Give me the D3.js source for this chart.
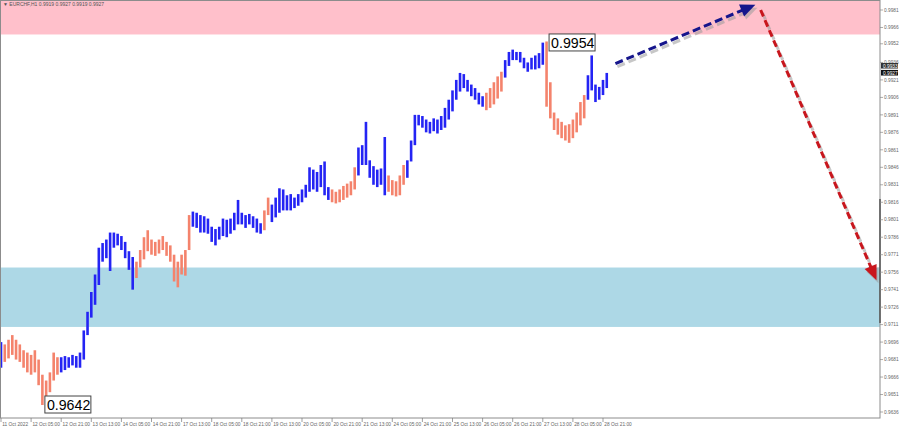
<!DOCTYPE html>
<html><head><meta charset="utf-8">
<script src="https://cdn.jsdelivr.net/npm/d3@7"></script>
<style>
body{margin:0;background:#fff;}
svg{display:block;font-family:"Liberation Sans",Arial,sans-serif;}
</style>
</head><body>
<svg id="c" width="900" height="428"></svg>
<script>
// ---------- DATA ----------
const symbolTitle = "▼ EURCHF,H1  0.9919 0.9927 0.9919 0.9927";
// 2-hour bars (high / low), starting 11 Oct 2022 13:00
const barHigh = [
0.9696,0.9694,0.9698,0.9702,0.9698,0.9694,0.9689,0.9687,0.9685,0.9689,
0.9681,0.9668,0.9663,0.9670,0.9687,0.9683,0.9683,0.9684,0.9683,0.9685,
0.9684,0.9687,0.9706,0.9722,0.9739,0.9754,0.9777,0.9781,0.9784,0.9790,
0.9790,0.9789,0.9787,0.9782,0.9774,0.9769,0.9765,0.9775,0.9786,0.9792,
0.9784,0.9782,0.9784,0.9787,0.9782,0.9779,0.9771,0.9765,0.9771,0.9775,
0.9805,0.9808,0.9807,0.9805,0.9804,0.9802,0.9795,0.9793,0.9795,0.9802,
0.9801,0.9802,0.9807,0.9818,0.9807,0.9805,0.9806,0.9804,0.9802,0.9798,
0.9809,0.9820,0.9814,0.9820,0.9828,0.9827,0.9822,0.9823,0.9820,0.9823,
0.9827,0.9831,0.9846,0.9844,0.9842,0.9848,0.9851,0.9829,0.9827,0.9825,
0.9827,0.9830,0.9832,0.9834,0.9846,0.9863,0.9865,0.9885,0.9852,0.9847,
0.9844,0.9845,0.9872,0.9839,0.9835,0.9834,0.9839,0.9848,0.9852,0.9869,
0.9891,0.9891,0.9890,0.9887,0.9885,0.9888,0.9887,0.9890,0.9897,0.9904,
0.9912,0.9921,0.9927,0.9926,0.9921,0.9917,0.9914,0.9910,0.9907,0.9910,
0.9914,0.9919,0.9924,0.9928,0.9938,0.9945,0.9947,0.9945,0.9945,0.9940,
0.9936,0.9940,0.9942,0.9944,0.9953,0.9954,0.9919,0.9893,0.9888,0.9885,
0.9882,0.9883,0.9887,0.9893,0.9902,0.9908,0.9925,0.9942,0.9917,0.9915,
0.9921,0.9927];
const barLow = [
0.9674,0.9679,0.9682,0.9685,0.9681,0.9679,0.9674,0.9670,0.9668,0.9670,
0.9659,0.9642,0.9648,0.9653,0.9663,0.9668,0.9670,0.9672,0.9674,0.9676,
0.9674,0.9674,0.9681,0.9702,0.9717,0.9728,0.9745,0.9765,0.9768,0.9757,
0.9777,0.9779,0.9775,0.9768,0.9758,0.9741,0.9751,0.9760,0.9767,0.9774,
0.9771,0.9770,0.9772,0.9775,0.9770,0.9765,0.9748,0.9743,0.9754,0.9753,
0.9775,0.9795,0.9794,0.9790,0.9790,0.9789,0.9782,0.9779,0.9784,0.9787,
0.9786,0.9789,0.9792,0.9797,0.9797,0.9794,0.9797,0.9794,0.9790,0.9789,
0.9792,0.9805,0.9799,0.9803,0.9807,0.9809,0.9809,0.9809,0.9811,0.9813,
0.9816,0.9820,0.9825,0.9827,0.9825,0.9829,0.9822,0.9818,0.9816,0.9815,
0.9816,0.9818,0.9820,0.9822,0.9827,0.9839,0.9848,0.9848,0.9837,0.9831,
0.9829,0.9831,0.9822,0.9825,0.9822,0.9821,0.9822,0.9831,0.9837,0.9851,
0.9865,0.9882,0.9880,0.9876,0.9875,0.9877,0.9875,0.9878,0.9880,0.9887,
0.9894,0.9904,0.9911,0.9914,0.9911,0.9907,0.9904,0.9900,0.9898,0.9895,
0.9897,0.9900,0.9905,0.9911,0.9923,0.9933,0.9938,0.9938,0.9936,0.9931,
0.9928,0.9930,0.9930,0.9931,0.9934,0.9898,0.9888,0.9878,0.9874,0.9871,
0.9869,0.9867,0.9871,0.9876,0.9882,0.9888,0.9904,0.9912,0.9902,0.9904,
0.9908,0.9914];
// first bar index of each wave, alternating direction starting with "up"
const waveStarts = [0,1,16,36,51,70,72,88,95,103,108,129,134,145,156];
const waveDirs = ["up","down","up","down","up","down","up","down","up","down","up","down","up","down","up"];
const timeLabels = ["11 Oct 2022","12 Oct 05:00","12 Oct 21:00","13 Oct 13:00","14 Oct 05:00","14 Oct 21:00",
  "17 Oct 13:00","18 Oct 05:00","18 Oct 21:00","19 Oct 13:00","20 Oct 05:00","20 Oct 21:00","21 Oct 13:00",
  "24 Oct 05:00","24 Oct 21:00","25 Oct 13:00","26 Oct 05:00","26 Oct 21:00","27 Oct 13:00","28 Oct 05:00","28 Oct 21:00"];
const priceTicks = [0.9981,0.9966,0.9952,0.9936,0.9921,0.9906,0.9891,0.9876,0.9861,0.9846,0.9831,0.9816,
  0.9801,0.9786,0.9771,0.9756,0.9741,0.9726,0.9711,0.9696,0.9681,0.9666,0.9651,0.9636];
const lastPrices = [0.9933, 0.9927];
const resistanceZone = [1.0000, 0.9960];
const supportZone = [0.9760, 0.9709];
const extremeLabels = [{bar:145, price:0.9954, text:"0.9954", side:"high"},
                       {bar:11, price:0.9642, text:"0.9642", side:"low"}];
const forecastUp = [[163.3, 0.9935],[200.5, 0.99855]];
const forecastDown = [[201.9, 0.9981],[232.7, 0.9749]];

// ---------- CHART ----------
const svg = d3.select("#c");
const plotR = 880, plotB = 418;
const x = d3.scaleLinear().domain([0, 8]).range([1, 31.1]);
const y = d3.scaleLinear().domain([0.9636, 0.9981]).range([412, 10]);

svg.append("defs").append("clipPath").attr("id","clip")
  .append("rect").attr("x",0).attr("y",0).attr("width",plotR).attr("height",plotB);
const plot = svg.append("g").attr("clip-path","url(#clip)");

// zones
plot.append("rect").attr("x",0).attr("width",plotR)
  .attr("y", y(resistanceZone[0])).attr("height", y(resistanceZone[1]) - y(resistanceZone[0]))
  .attr("fill","#ffc0cb");
plot.append("rect").attr("x",0).attr("width",plotR)
  .attr("y", y(supportZone[0])).attr("height", y(supportZone[1]) - y(supportZone[0]))
  .attr("fill","#add8e6");

// bars
function dirOf(i){ let k=0; for(let j=0;j<waveStarts.length;j++){ if(i>=waveStarts[j]) k=j; } return waveDirs[k]; }
const colors = {up:"#2424f4", down:"#f4836c"};
plot.append("g").selectAll("line").data(barHigh.map((h,i)=>({i,h,l:barLow[i]})))
  .join("line")
  .attr("x1",d=>x(d.i)).attr("x2",d=>x(d.i))
  .attr("y1",d=>y(d.h)).attr("y2",d=>y(d.l))
  .attr("stroke",d=>colors[dirOf(d.i)]).attr("stroke-width",2.6);

// forecast arrows
function arrow(pts, color, dash){
  const [p0,p1] = pts;
  const x0=x(p0[0]), y0=y(p0[1]), x1=x(p1[0]), y1=y(p1[1]);
  const ang = Math.atan2(y1-y0, x1-x0);
  const L=15, W=6.5;
  const bx = x1 - L*Math.cos(ang), by = y1 - L*Math.sin(ang);
  const head = [[x1,y1],[bx + W*Math.sin(ang), by - W*Math.cos(ang)],[bx - W*Math.sin(ang), by + W*Math.cos(ang)]];
  const draw = (g, c, op)=>{
    g.append("line").attr("x1",x0).attr("y1",y0).attr("x2",bx+2*Math.cos(ang)).attr("y2",by+2*Math.sin(ang))
      .attr("stroke",c).attr("stroke-width",3).attr("stroke-dasharray",dash).attr("opacity",op);
    g.append("polygon").attr("points",head.map(p=>p.join(",")).join(" ")).attr("fill",c).attr("opacity",op);
  };
  draw(plot.append("g").attr("transform","translate(2,3)"), "#9a9a9a", 0.55);
  draw(plot.append("g"), color, 1);
}
arrow(forecastUp, "#16168c", "8,4");
arrow(forecastDown, "#c8161d", "7,4");

// extreme labels
extremeLabels.forEach(d=>{
  const bx = x(d.bar) + 2.5;
  const top = d.side==="high" ? y(d.price) - 7.5 : y(d.price) - 9;
  const g = svg.append("g");
  g.append("rect").attr("x",bx).attr("y",top).attr("width",46).attr("height",17)
    .attr("fill","#fff").attr("stroke","#444").attr("stroke-width",1);
  g.append("text").attr("x",bx+2).attr("y",top+14).attr("font-size",14.2).attr("fill","#000").text(d.text);
});

// frame
svg.append("rect").attr("x",0.5).attr("y",0.5).attr("width",plotR-0.5).attr("height",plotB-0.5)
  .attr("fill","none").attr("stroke","#8c8c8c").attr("stroke-width",1);
svg.append("line").attr("x1",plotR).attr("x2",plotR).attr("y1",199).attr("y2",323)
  .attr("stroke","#555").attr("stroke-width",1.5);

// title
svg.append("text").attr("x",3).attr("y",6).attr("font-size",5).attr("fill","#555").text(symbolTitle);

// right price axis
const yAxis = svg.append("g");
priceTicks.forEach(p=>{
  yAxis.append("line").attr("x1",plotR).attr("x2",plotR+3).attr("y1",y(p)).attr("y2",y(p)).attr("stroke","#888").attr("stroke-width",0.7);
  yAxis.append("text").attr("x",plotR+4).attr("y",y(p)+1.7).attr("font-size",4.8).attr("fill","#666")
    .text(p.toFixed(4));
});
lastPrices.forEach((p,k)=>{
  const yy = y(p);
  yAxis.append("rect").attr("x",plotR+1).attr("y",yy-3).attr("width",17).attr("height",5.6)
    .attr("fill", k===0 ? "#333" : "#111");
  yAxis.append("text").attr("x",plotR+3).attr("y",yy+1.7).attr("font-size",4.8).attr("fill","#fff").text(p.toFixed(4));
});

// bottom time axis
const xAxis = svg.append("g");
timeLabels.forEach((t,k)=>{
  const xx = x(k*8);
  xAxis.append("line").attr("x1",xx).attr("x2",xx).attr("y1",plotB).attr("y2",plotB+4).attr("stroke","#777").attr("stroke-width",0.7);
  xAxis.append("text").attr("x",xx+1.3).attr("y",plotB+7.5).attr("font-size",4.8).attr("fill","#666").text(t);
});
</script>
</body></html>
